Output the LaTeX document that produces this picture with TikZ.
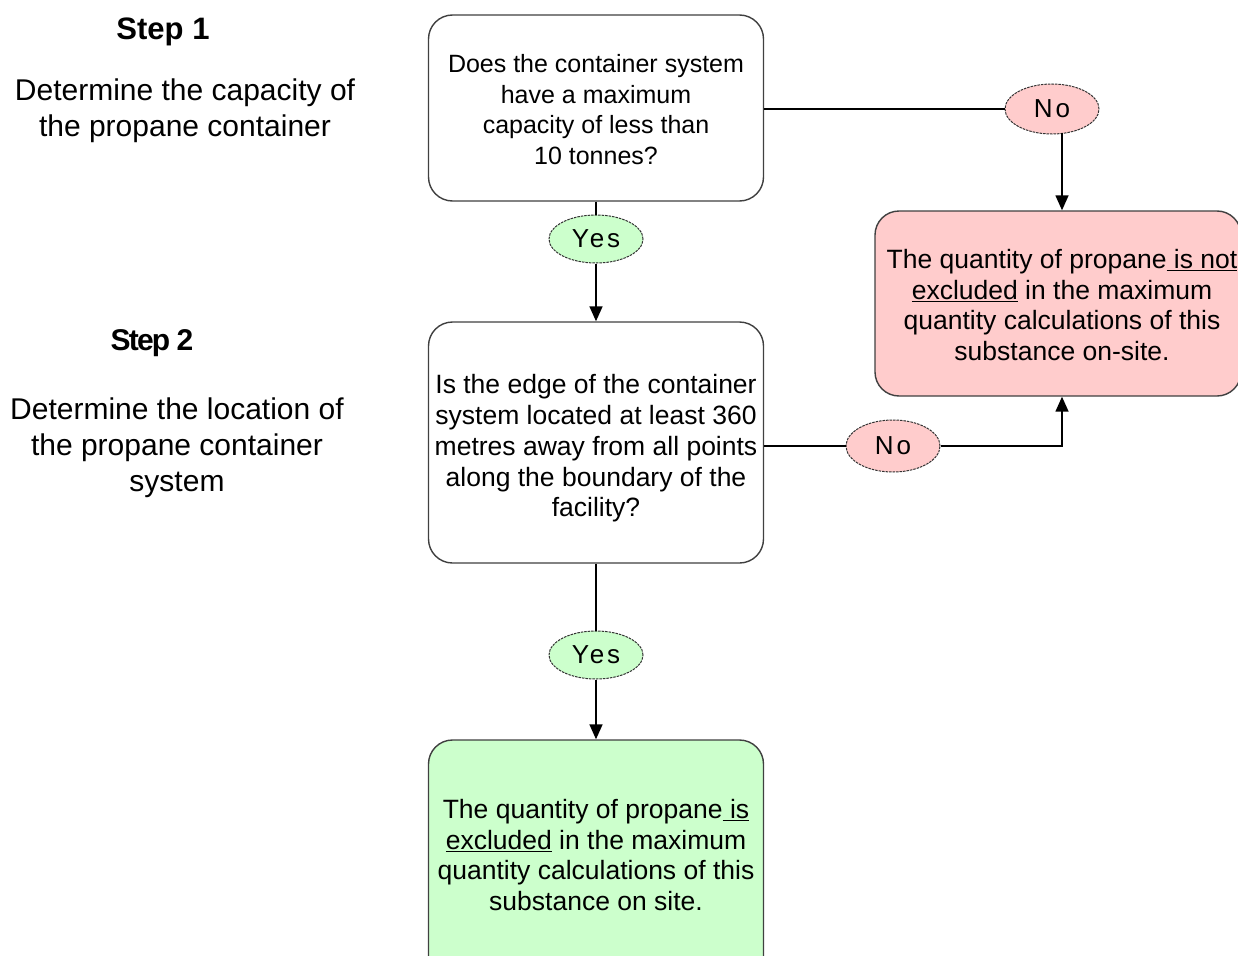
\documentclass[tikz,border=0pt]{standalone}
\usepackage{fontspec}
\setmainfont{Liberation Sans}
\usetikzlibrary{shapes.geometric,arrows.meta}
\definecolor{pinkfill}{HTML}{FFCCCC}
\definecolor{greenfill}{HTML}{CCFFCC}
\begin{document}
\begin{tikzpicture}[x=1pt,y=-1pt,
  box/.style={draw=black!75,line width=1.4pt,rounded corners=24pt,minimum width=335pt,align=center,
    font=\fontsize{25}{30.5}\selectfont},
  bigtext/.style={align=center,font=\fontsize{26.5}{30.7}\selectfont},
  oval/.style={ellipse,draw=black!80,line width=1pt,dash pattern=on 2.5pt off 1pt,minimum width=94pt,minimum height=48pt,inner sep=0pt,
    font=\fontsize{26}{28}\selectfont\addfontfeature{LetterSpace=11}},
  conn/.style={line width=1.6pt,draw=black},
  arr/.style={conn,-{Triangle[length=15pt,width=13pt]}},
  side/.style={align=center,font=\fontsize{30}{36}\selectfont}]
\useasboundingbox (0,0) rectangle (1238,955);
\clip (0,0) rectangle (1238,955);
% left labels
\node[font=\fontsize{31}{34}\selectfont\bfseries] (s1) at (163,32) {Step 1};
\node[side] (d1) at (185,111) {Determine the capacity of\\the propane container};
\node[font=\fontsize{30}{34}\selectfont\bfseries\addfontfeature{LetterSpace=-6}] (s2) at (152,343) {Step 2};
\node[side] (d2) at (177,448) {Determine the location of\\the propane container\\system};
% boxes
\node[box,fill=white,minimum height=186pt] (q1) at (596,108) {};
\node[font=\fontsize{25}{30.5}\selectfont,align=center] (q1t) at (596,109.5) {Does the container system\\have a maximum\\capacity of less than\\10 tonnes?};
\node[box,fill=white,minimum height=241pt] (q2) at (596,442.5) {};
\node[bigtext] (q2t) at (596,448.5) {Is the edge of the container\\system located at least 360\\metres away from all points\\along the boundary of the\\facility?};
\node[box,fill=pinkfill,minimum width=366pt,minimum height=185pt] (no) at (1058,303.5) {};
\node[bigtext] (not) at (1062,305) {The quantity of propane\underline{ is not}\\\underline{excluded} in the maximum\\quantity calculations of this\\substance on-site.};
\node[box,fill=greenfill,minimum height=240pt] (yes) at (596,860) {};
\node[bigtext] (yest) at (596,855) {The quantity of propane\underline{ is}\\\underline{excluded} in the maximum\\quantity calculations of this\\substance on site.};
% ovals
\node[oval,fill=greenfill] (y1) at (596,239) {Yes};
\node[oval,fill=greenfill] (y2) at (596,655) {Yes};
\node[oval,fill=pinkfill,minimum height=50pt] (n1) at (1052,109) {No};
\node[oval,fill=pinkfill,minimum height=52pt] (n2) at (893,446) {No};
% connectors
\draw[conn] (q1.south) -- (y1.north);
\draw[arr] (y1.south) -- (q2.north);
\draw[conn] (q2.south) -- (y2.north);
\draw[arr] (y2.south) -- (yes.north);
\draw[conn] (q1.east |- n1.west) -- (n1.west);
\coordinate (n1b) at (1062,133);
\draw[arr] (n1b) -- (n1b |- no.north);
\draw[conn] (q2.east |- n2.west) -- (n2.west);
\coordinate (nc) at (1062,446);
\draw[arr] (n2.east) -- (nc) -- (nc |- no.south);
\end{tikzpicture}
\end{document}
